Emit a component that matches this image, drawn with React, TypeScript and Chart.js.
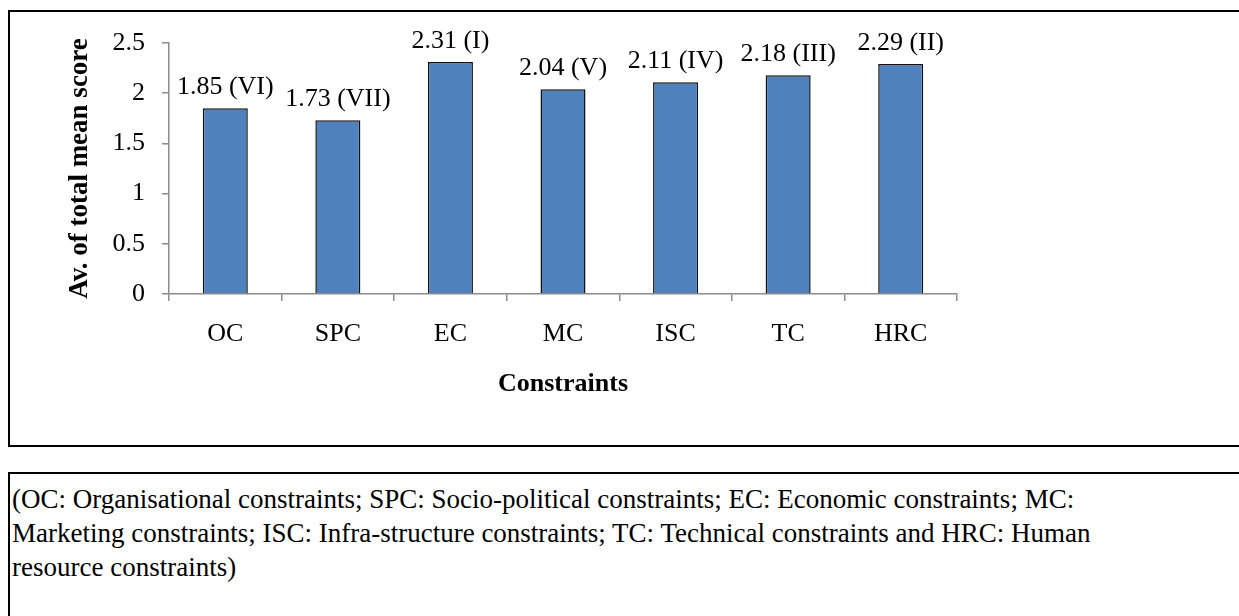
import React, { useEffect, useRef } from "react";
import { Chart, registerables } from "chart.js";

Chart.register(...registerables);

const categories = ["OC", "SPC", "EC", "MC", "ISC", "TC", "HRC"];
const scores = [1.85, 1.73, 2.31, 2.04, 2.11, 2.18, 2.29];
const ranks = ["VI", "VII", "I", "V", "IV", "III", "II"];
const yTicks = [0, 0.5, 1, 1.5, 2, 2.5];
const yTitle = "Av. of total mean score";
const xTitle = "Constraints";
const captionLines = [
  "(OC: Organisational constraints; SPC: Socio-political constraints; EC: Economic constraints; MC:",
  "Marketing constraints; ISC: Infra-structure constraints; TC: Technical constraints and HRC: Human",
  "resource constraints)",
];

const FONT = '"Liberation Serif", "Times New Roman", serif';

const barLabelPlugin = {
  id: "barLabels",
  afterDatasetsDraw(chart: any) {
    const ctx = chart.ctx;
    const meta = chart.getDatasetMeta(0);
    ctx.save();
    ctx.font = `26px ${FONT}`;
    ctx.fillStyle = "#000";
    ctx.textAlign = "center";
    ctx.textBaseline = "bottom";
    meta.data.forEach((el: any, i: number) => {
      const txt = `${scores[i].toFixed(2)} (${ranks[i]})`;
      ctx.fillText(txt, el.x, el.y - 8);
    });
    ctx.restore();
  },
};

export default function App() {
  const ref = useRef<HTMLCanvasElement | null>(null);

  useEffect(() => {
    if (!ref.current) return;
    const chart = new Chart(ref.current, {
      type: "bar",
      data: {
        labels: categories,
        datasets: [
          {
            data: scores,
            backgroundColor: "#4F81BD",
            borderColor: "#111",
            borderWidth: 1.5,
            barPercentage: 0.4,
            categoryPercentage: 1,
          },
        ],
      },
      options: {
        responsive: false,
        animation: false,
        devicePixelRatio: 1,
        layout: { padding: { left: 64, top: 43, right: 282, bottom: 47 } },
        plugins: {
          legend: { display: false },
          tooltip: { enabled: false },
        },
        scales: {
          x: {
            grid: {
              display: true,
              drawOnChartArea: false,
              drawTicks: true,
              tickLength: 7,
              color: "#8c8c8c",
              lineWidth: 1.5,
            },
            border: { display: true, color: "#8c8c8c", width: 1.5 },
            ticks: {
              color: "#000",
              padding: 18,
              font: { family: FONT, size: 26 },
            },
            title: {
              display: true,
              text: xTitle,
              color: "#000",
              padding: 0,
              font: { family: FONT, size: 26, weight: "bold" },
            },
            afterFit: (s: any) => {
              s.height = 106;
            },
          },
          y: {
            min: 0,
            max: 2.5,
            afterBuildTicks: (s: any) => {
              s.ticks = yTicks.map((v) => ({ value: v }));
            },
            grid: {
              display: true,
              drawOnChartArea: false,
              drawTicks: true,
              tickLength: 7,
              color: "#8c8c8c",
              lineWidth: 1.5,
            },
            border: { display: true, color: "#8c8c8c", width: 1.5 },
            ticks: {
              color: "#000",
              padding: 17,
              font: { family: FONT, size: 26 },
              callback: (v: any) => String(v),
            },
            title: {
              display: true,
              text: yTitle,
              color: "#000",
              padding: 0,
              font: { family: FONT, size: 27, weight: "bold" },
            },
            afterFit: (s: any) => {
              s.width = 105;
            },
          },
        },
      },
      plugins: [barLabelPlugin],
    });
    return () => chart.destroy();
  }, []);

  return (
    <div
      style={{
        position: "fixed",
        left: 0,
        top: 0,
        width: 1239,
        height: 616,
        overflow: "hidden",
        background: "#fff",
      }}
    >
      <div
        style={{
          position: "absolute",
          left: 8,
          top: 10,
          width: 1300,
          height: 433,
          border: "2px solid #000",
        }}
      />
      <canvas
        ref={ref}
        width={1239}
        height={447}
        style={{ position: "absolute", left: 0, top: 0, width: 1239, height: 447 }}
      />
      <div
        style={{
          position: "absolute",
          left: 8,
          top: 472,
          width: 1300,
          height: 200,
          border: "2px solid #000",
          boxSizing: "content-box",
          padding: "8px 0 0 2px",
          fontFamily: FONT,
          fontSize: 27,
          lineHeight: "34px",
          color: "#000",
        }}
      >
        {captionLines.map((l, i) => (
          <div key={i} style={{ whiteSpace: "nowrap" }}>
            {l}
          </div>
        ))}
      </div>
    </div>
  );
}
